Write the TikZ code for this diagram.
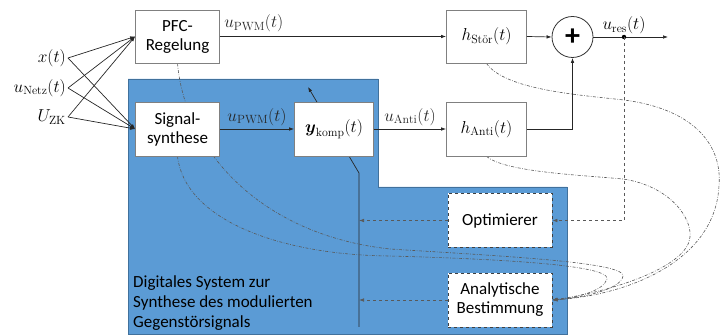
\documentclass[tikz,border=0pt]{standalone}
\usepackage{amsmath}
\usepackage{fontspec}
\setsansfont{Carlito}
\usetikzlibrary{arrows.meta,backgrounds}
\definecolor{dsblue}{RGB}{91,155,213}
\definecolor{dsedge}{RGB}{65,113,156}

\begin{document}
\begin{tikzpicture}[x=1pt,y=-1pt,font=\sffamily\fontsize{17}{19}\selectfont,
  >={Latex[length=5pt,width=3.6pt]},
  block/.style={draw=gray,fill=white,line width=0.8pt,align=center,inner sep=0pt},
  dblock/.style={block,draw=black!75,dashed},
  sig/.style={line width=0.7pt,black!85},
  fb/.style={line width=0.7pt,gray!70!black,dashed},
  infl/.style={line width=0.6pt,gray!70!black,dash pattern=on 3pt off 1.5pt on 0.7pt off 1.5pt}]
\useasboundingbox (0,0) rectangle (720,336);

% blocks
\node[block,minimum width=84pt,minimum height=53pt] (pfc) at (177.5,36.5) {PFC-\\Regelung};
\node[block,minimum width=84pt,minimum height=54pt] (synth) at (177.5,129) {Signal-\\synthese};
\node[block,minimum width=79pt,minimum height=54pt] (komp) at (334,129) {$\boldsymbol{y}_\mathrm{komp}(t)$};
\node[block,minimum width=80pt,minimum height=53pt] (hstoer) at (486.5,36.5) {$h_{\text{\normalfont\rmfamily Stör}}(t)$};
\node[block,minimum width=80pt,minimum height=54pt] (hanti) at (486.5,129) {$h_\mathrm{Anti}(t)$};
\node[circle,draw=black!80,fill=white,line width=0.8pt,minimum size=41pt,inner sep=0pt] (sum) at (572.5,37) {\fontsize{30}{30}\selectfont\textbf{+}};
\node[dblock,minimum width=104pt,minimum height=54pt] (opt) at (500,220.5) {Optimierer};
\node[dblock,minimum width=104pt,minimum height=54pt] (ana) at (500,300) {Analytische\\Bestimmung};
\node[anchor=south west,align=left,inner sep=0pt,font=\sffamily\fontsize{17}{20}\selectfont] (dslabel) at (133,331)
  {Digitales System zur\\Synthese des modulierten\\Gegenstörsignals};

% inputs
\node[anchor=east,inner sep=2pt] (xin) at (68,58) {$x(t)$};
\node[anchor=east,inner sep=2pt] (unetz) at (68,88) {$u_\mathrm{Netz}(t)$};
\node[anchor=east,inner sep=2pt] (uzk) at (68,117) {$U_\mathrm{ZK}$};

\coordinate (resdot) at (624,37);
\coordinate (out) at (668,37);
\coordinate (adjbot) at (359,327);
\coordinate (adjbend) at (359,173);
\coordinate (adjtip) at (308,87);

\draw[sig,->] (xin.east) -- (pfc.west);
\draw[sig,->] (unetz.east) -- (pfc.west);
\draw[sig,->] (uzk.east) -- (pfc.west);
\draw[sig,->] (xin.east) -- (synth.west);
\draw[sig,->] (unetz.east) -- (synth.west);
\draw[sig,->] (uzk.east) -- (synth.west);

% signal path
\draw[sig,->] (pfc.east) -- node[above right,pos=0,inner sep=4pt] {$u_\mathrm{PWM}(t)$} (hstoer.west);
\draw[sig,->] (synth.east) -- node[above] {$u_\mathrm{PWM}(t)$} (komp.west);
\draw[sig,->] (komp.east) -- node[above] {$u_\mathrm{Anti}(t)$} (hanti.west);
\draw[sig,->] (hstoer.east) -- (sum.west);
\draw[sig,->] (hanti.east) -| (sum.south);
\draw[sig,->] (sum.east) -- (out);
\fill (resdot) circle (2.2pt);
\node[above,inner sep=3pt] (reslabel) at (resdot) {$u_\mathrm{res}(t)$};

% feedback
\draw[fb,->] (resdot) |- (opt.east);
\draw[fb,->] (opt.west) -- (opt.west -| adjbot);
\draw[fb,->] (ana.west) -- (ana.west -| adjbot);

\begin{scope}[on background layer]
\fill[dsblue,draw=dsedge,line width=0.8pt] (128,79) -- (378,79) -- (378,187) -- (567,187) -- (567,334) -- (128,334) -- cycle;
\draw[sig,->] (adjbot) -- (adjbend) -- (adjtip);
% influence paths
\draw[infl,->] (pfc.south) .. controls (185,150) and (260,235) .. (390,249)
  .. controls (500,256) and (625,262) .. (623,276) .. controls (621,290) and (580,298) .. (ana.east);
\draw[infl,->] (synth.south) .. controls (185,220) and (280,255) .. (390,256)
  .. controls (500,259) and (610,265) .. (607,279) .. controls (604,291) and (575,298) .. (ana.east);
\draw[infl,->] (hstoer.south) .. controls (505,90) and (580,95) .. (624,100)
  .. controls (700,110) and (722,150) .. (719,185) .. controls (716,260) and (630,295) .. (ana.east);
\draw[infl,->] (hanti.south) .. controls (505,172) and (580,175) .. (623,179)
  .. controls (670,186) and (692,218) .. (690,237) .. controls (688,265) and (620,290) .. (ana.east);
\end{scope}
\end{tikzpicture}
\end{document}
